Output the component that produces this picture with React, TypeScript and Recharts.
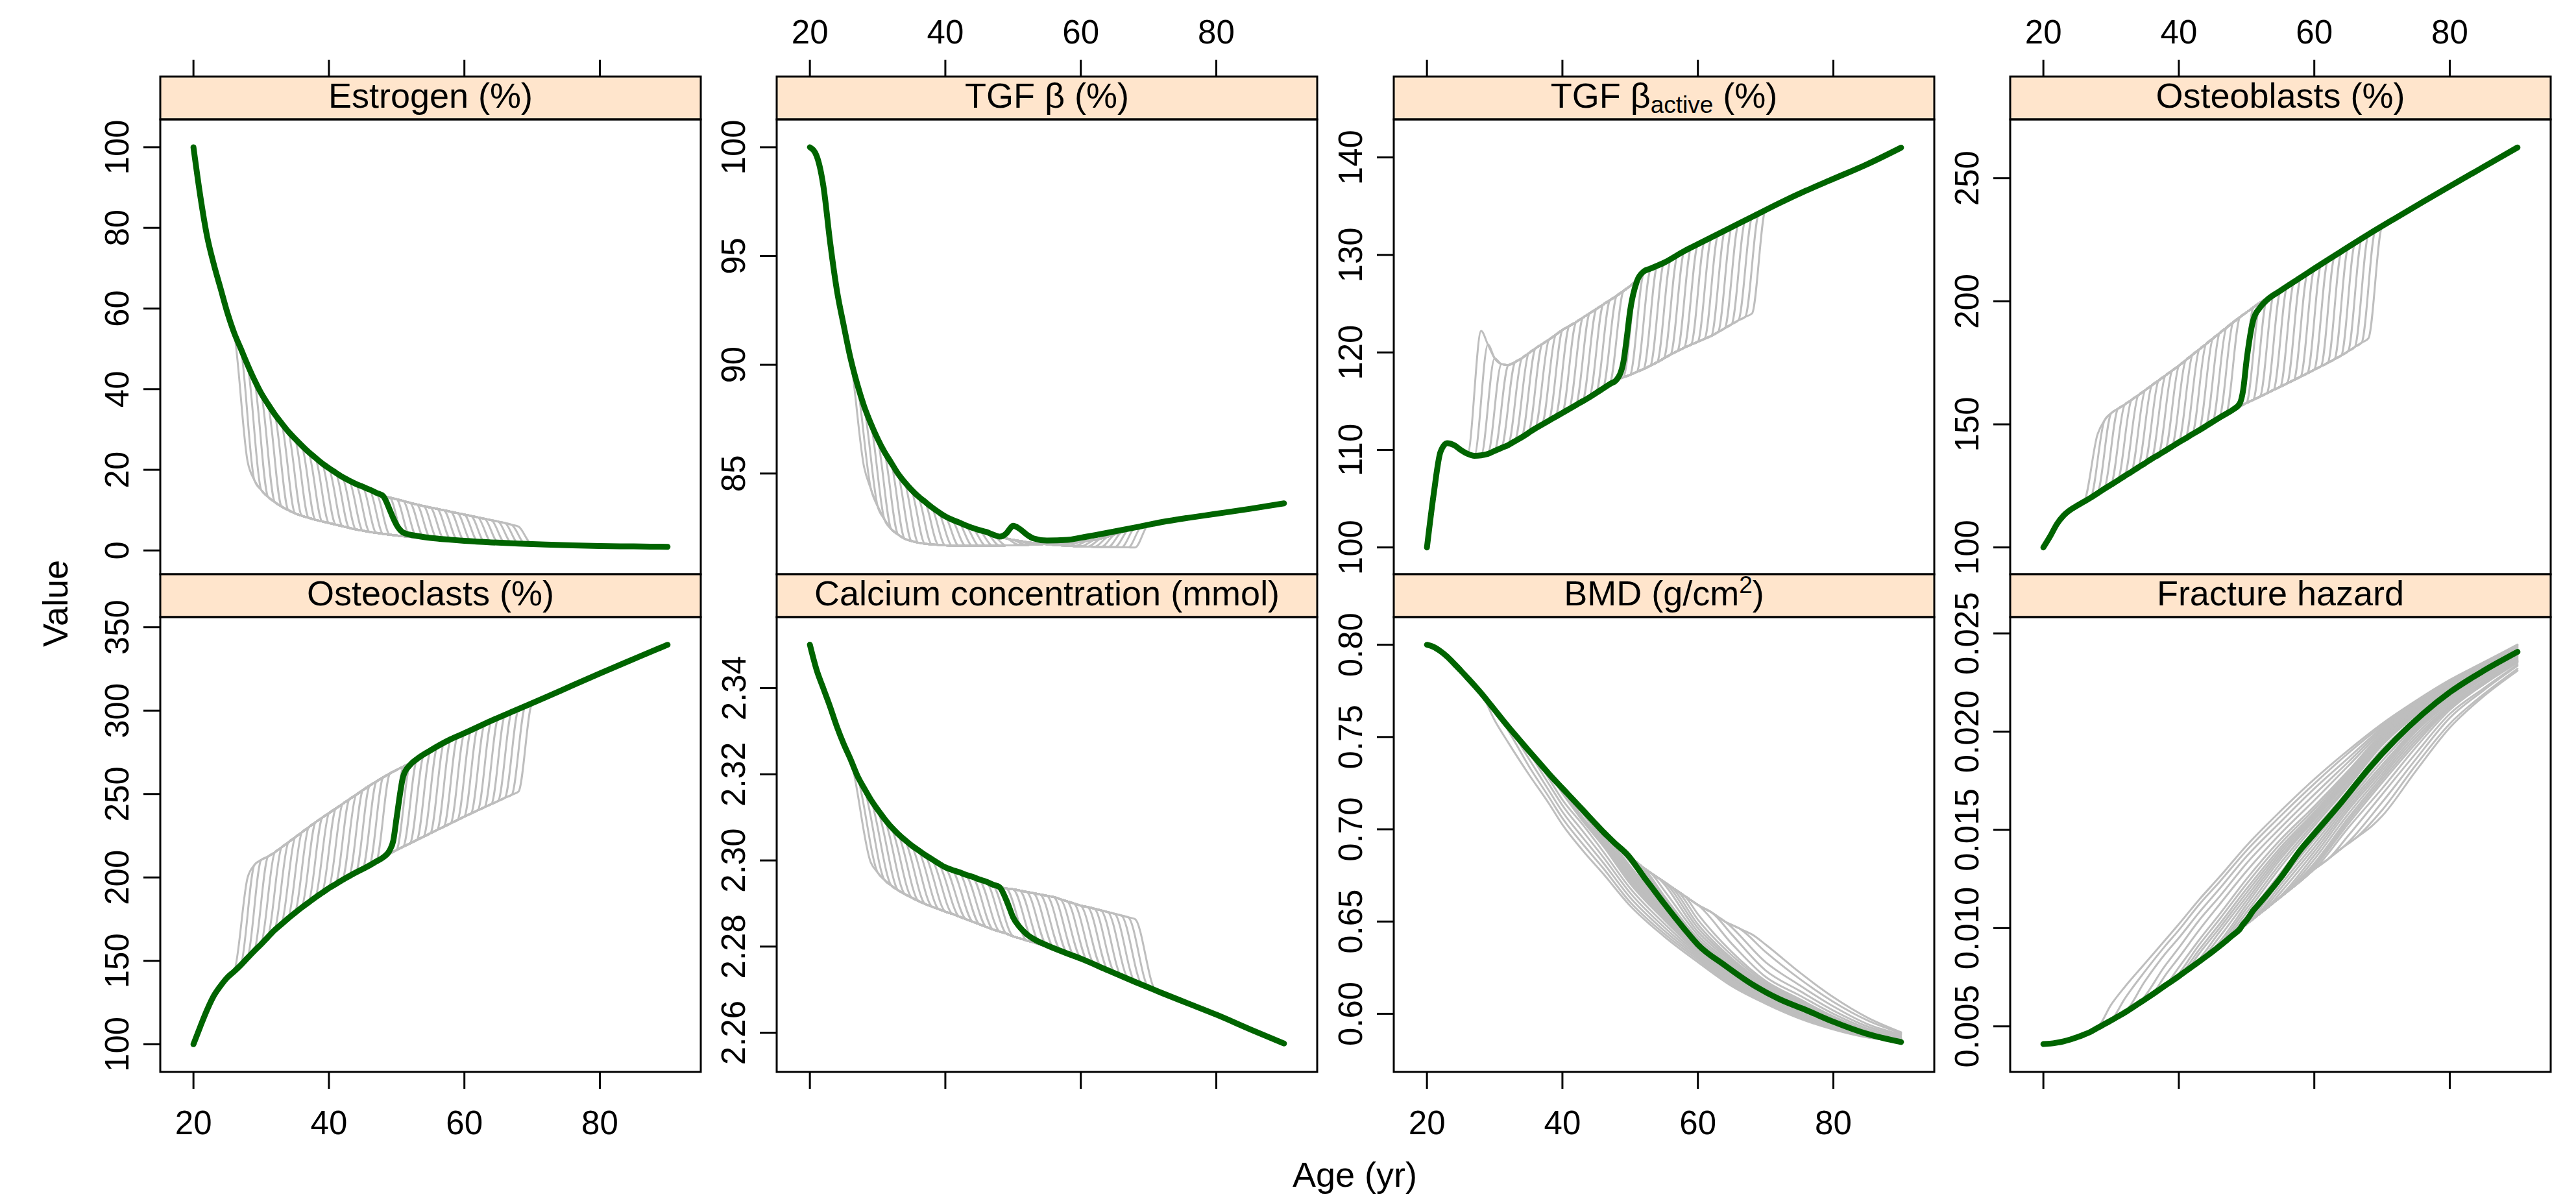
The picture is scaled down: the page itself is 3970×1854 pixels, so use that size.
import React from "react";
import { LineChart, Line, XAxis, YAxis } from "recharts";

const FONT = '"Liberation Sans", Arial, Helvetica, sans-serif';
const GRAY = "#BEBEBE";
const GREEN = "#006400";
const STRIP = "#FFE5CC";
const _ = null;

// ages where the pre-onset trajectories were read (20..68)
const preAges = [20, 21, 22, 23, 24, 25, 26, 27, 28, 29, 30, 31, 32, 33, 34, 35, 36, 37, 38, 39, 40, 41, 42, 43, 44, 45, 46, 47, 48, 49, 50, 51, 52, 53, 54, 55, 56, 57, 58, 59, 60, 61, 62, 63, 64, 65, 66, 67, 68];
// ages where the post-jump envelopes were read (28..74)
const postAges = [28, 29, 30, 31, 32, 33, 34, 35, 36, 37, 38, 39, 40, 41, 42, 43, 44, 45, 46, 47, 48, 49, 50, 51, 52, 53, 54, 55, 56, 57, 58, 59, 60, 61, 62, 63, 64, 65, 66, 67, 68, 69, 70, 71, 72, 73, 74];
// ages of the highlighted (green) scenario after its onset
const greenAges = [49, 49.5, 50, 51, 52, 53, 55, 58, 60, 64, 68, 72, 76, 80, 85, 90];
// ages where the BMD / fracture fans were read
const fanAges = [30, 32, 35, 38, 40, 43, 46, 50, 55, 60, 65, 70, 75, 80, 85, 90];

const greenOnset = 48;
const jumpOnsets = [26, 27, 28, 29, 30, 31, 32, 33, 34, 35, 36, 37, 38, 39, 40, 41, 42, 43, 44, 45, 46, 47, 49, 50, 51, 52, 53, 54, 55, 56, 57, 58, 59, 60, 61, 62, 63, 64, 65, 66, 67, 68];
const fanOnsets = [28, 30, 32, 34, 36, 38, 39, 40, 41, 42, 43, 44, 45, 46, 47, 49, 50, 51, 52, 53, 54, 55, 56, 57, 58, 60, 62, 64, 66, 68];
const xTicks = [20, 40, 60, 80];

// Estrogen (%)
const estrogenPre = [100, 88, 78, 71, 65, 59, 54, 50, 46, 42.3, 39, 36.3, 33.8, 31.6, 29.5, 27.7, 26, 24.4, 23, 21.6, 20.4, 19.3, 18.2, 17.3, 16.5, 15.8, 15.1, 14.3, 13.5, 13.1, 12.7, 12.25, 11.8, 11.4, 11.0, 10.65, 10.3, 9.95, 9.6, 9.25, 8.9, 8.55, 8.2, 7.85, 7.5, 7.15, 6.8, 6.35, 5.9];
const estrogenPost = [22, 17.4, 15, 13.3, 12, 10.9, 10, 9.2, 8.6, 8.1, 7.6, 7.2, 6.8, 6.4, 6.0, 5.6, 5.2, 4.9, 4.6, 4.35, 4.1, 3.9, 3.7, 3.5, 3.35, 3.25, 3.2, 3.05, 2.9, 2.78, 2.65, 2.52, 2.4, 2.3, 2.2, 2.1, 2.0, 1.92, 1.85, 1.78, 1.7, 1.62, 1.55, 1.5, 1.45, 1.4, 1.35];
const estrogenGreen = [10, 8.0, 6.3, 4.4, 3.9, 3.6, 3.1, 2.65, 2.4, 2.0, 1.7, 1.45, 1.25, 1.1, 1.0, 0.9];
const estrogenTicks = [0, 20, 40, 60, 80, 100];

// TGF beta (%)
const tgfPre = [100, 99.6, 98.2, 95.6, 93.4, 91.8, 90.3, 89.1, 88.1, 87.3, 86.6, 86.0, 85.5, 85.0, 84.6, 84.25, 83.95, 83.7, 83.45, 83.23, 83.03, 82.88, 82.75, 82.62, 82.5, 82.4, 82.32, 82.2, 82.1, 82.02, 81.95, 81.9, 81.85, 81.81, 81.78, 81.75, 81.72, 81.7, 81.68, 81.66, 81.65, 81.64, 81.63, 81.625, 81.62, 81.615, 81.61, 81.605, 81.6];
const tgfPost = [85.3, 84.3, 83.5, 82.9, 82.45, 82.2, 82.0, 81.9, 81.82, 81.77, 81.74, 81.72, 81.7, 81.69, 81.68, 81.68, 81.68, 81.68, 81.68, 81.685, 81.69, 81.695, 81.7, 81.71, 81.72, 81.735, 81.75, 81.765, 81.78, 81.8, 81.82, 81.845, 81.87, 81.91, 81.95, 82.02, 82.1, 82.2, 82.3, 82.41, 82.52, 82.59, 82.65, 82.71, 82.77, 82.82, 82.87];
const tgfGreen = [82.25, 82.45, 82.6, 82.45, 82.2, 82.02, 81.92, 81.95, 82.05, 82.28, 82.52, 82.77, 82.97, 83.15, 83.38, 83.63];
const tgfTicks = [85, 90, 95, 100];

// TGF beta active (%)
const tgfActivePre = [100, 105.5, 109.8, 110.7, 110.5, 110.0, 109.6, 109.4, 109.45, 109.6, 109.9, 110.2, 110.5, 110.9, 111.3, 111.75, 112.2, 112.6, 113.0, 113.4, 113.8, 114.2, 114.6, 115.0, 115.4, 115.85, 116.3, 116.75, 117.2, 117.45, 117.7, 118.0, 118.3, 118.65, 119.0, 119.4, 119.8, 120.15, 120.5, 120.8, 121.1, 121.4, 121.7, 122.1, 122.5, 122.9, 123.3, 123.65, 124.0];
const tgfActivePost = [122.2, 120.8, 119.4, 118.8, 118.7, 119.0, 119.4, 119.9, 120.4, 120.85, 121.3, 121.8, 122.3, 122.7, 123.1, 123.55, 124.0, 124.45, 124.9, 125.35, 125.8, 126.3, 126.8, 127.45, 128.1, 128.5, 128.9, 129.25, 129.6, 130.0, 130.4, 130.75, 131.1, 131.45, 131.8, 132.15, 132.5, 132.85, 133.2, 133.55, 133.9, 134.3, 134.7, 135.0, 135.3, 135.65, 136.0];
const tgfActiveGreen = [119, 121.5, 124.3, 127.3, 128.3, 128.6, 129.2, 130.4, 131.1, 132.5, 133.9, 135.3, 136.6, 137.8, 139.3, 141.0];
const tgfActiveTicks = [100, 110, 120, 130, 140];

// Osteoblasts (%)
const osteoblastPre = [100, 104.5, 109.5, 113, 115.3, 117, 118.6, 120.2, 122, 123.8, 125.5, 127.2, 129, 130.7, 132.5, 134.2, 136, 137.6, 139.3, 141, 142.7, 144.3, 146, 147.6, 149.3, 151, 152.7, 154.3, 156, 157.3, 158.7, 160, 161.3, 162.6, 164, 165.3, 166.7, 168, 169.4, 170.8, 172.2, 173.6, 175, 176.5, 178, 179.7, 181.5, 183.2, 185];
const osteoblastPost = [146, 151.5, 154.5, 156.3, 158, 159.9, 161.8, 163.8, 165.8, 167.8, 169.8, 171.8, 173.8, 176, 178.2, 180.4, 182.6, 184.8, 187, 189.2, 191.4, 193.5, 195.5, 197.5, 199.5, 201.2, 202.8, 204.5, 206.3, 208, 209.7, 211.5, 213.3, 215, 216.8, 218.5, 220.3, 222, 223.7, 225.5, 227.2, 228.8, 230.5, 232.2, 233.8, 235.4, 237];
const osteoblastGreen = [158.5, 164, 176, 192.5, 197.5, 200.5, 204.3, 209.7, 213.3, 220.3, 227.2, 233.8, 240.3, 246.7, 254.6, 262.5];
const osteoblastTicks = [100, 150, 200, 250];

// Osteoclasts (%)
const osteoclastPre = [100, 110.5, 120.5, 129, 135, 140, 143.6, 147.5, 151.8, 156, 160, 164.3, 168.5, 172, 175.5, 178.8, 182, 185, 188, 190.8, 193.6, 196, 198.5, 200.8, 203, 205.1, 207.2, 209.6, 212, 214.3, 216.5, 218.5, 220.5, 222.5, 224.5, 226.5, 228.5, 230.5, 232.5, 234.5, 236.5, 238.4, 240.3, 242.2, 244, 245.9, 247.8, 249.6, 251.5];
const osteoclastPost = [200, 207.5, 210.5, 212.5, 215, 218, 221, 224, 227, 230, 233, 235.8, 238.5, 241.3, 244, 246.8, 249.5, 252.3, 255, 257.5, 260, 262.3, 264.5, 266.5, 268.5, 271, 273.5, 276, 278.5, 280.8, 282.9, 284.7, 286.5, 288.4, 290.3, 292.2, 294, 295.8, 297.5, 299.3, 301, 302.8, 304.5, 306.3, 308, 309.7, 311.5];
const osteoclastGreen = [216.5, 222, 236, 261, 267.5, 271, 276.2, 282.9, 286.5, 294, 301, 308, 315.2, 322.3, 331, 339.5];
const osteoclastTicks = [100, 150, 200, 250, 300, 350];

// Calcium concentration (mmol)
const calciumPre = [2.3501, 2.3442, 2.3399, 2.3356, 2.331, 2.327, 2.3235, 2.3197, 2.3168, 2.3141, 2.3118, 2.3097, 2.3078, 2.3062, 2.3048, 2.3035, 2.3024, 2.3013, 2.3003, 2.2993, 2.2984, 2.2978, 2.2973, 2.2967, 2.2962, 2.2956, 2.2951, 2.2944, 2.2938, 2.2935, 2.2933, 2.293, 2.2927, 2.2924, 2.2921, 2.2918, 2.2915, 2.291, 2.2905, 2.29, 2.2895, 2.2892, 2.2888, 2.2884, 2.288, 2.2876, 2.2872, 2.2868, 2.2864];
const calciumPost = [2.303, 2.2995, 2.2972, 2.2955, 2.2942, 2.2931, 2.2922, 2.2914, 2.2906, 2.2899, 2.2893, 2.2887, 2.2881, 2.2876, 2.287, 2.2864, 2.2858, 2.2852, 2.2846, 2.284, 2.2835, 2.283, 2.2824, 2.2819, 2.2814, 2.281, 2.2805, 2.2801, 2.2796, 2.279, 2.2784, 2.2778, 2.2772, 2.2765, 2.2758, 2.2752, 2.2745, 2.2738, 2.2731, 2.2725, 2.2718, 2.2712, 2.2705, 2.2699, 2.2692, 2.2686, 2.268];
const calciumGreen = [2.2908, 2.2888, 2.2868, 2.2845, 2.2829, 2.2818, 2.2803, 2.2784, 2.2772, 2.2745, 2.2718, 2.2692, 2.2667, 2.2642, 2.2608, 2.2575];
const calciumTicks = [2.26, 2.28, 2.3, 2.32, 2.34];

// BMD (g/cm2)
const bmdPre = [0.8, 0.7988, 0.7965, 0.7935, 0.7898, 0.786, 0.782, 0.778, 0.7738, 0.7693, 0.7647, 0.7601, 0.7556, 0.7513, 0.747, 0.7427, 0.7385, 0.7343, 0.7301, 0.7261, 0.7222, 0.7183, 0.7144, 0.7105, 0.7065, 0.7026, 0.6987, 0.6951, 0.6916, 0.6883, 0.685, 0.682, 0.679, 0.6765, 0.674, 0.6715, 0.669, 0.6665, 0.664, 0.6615, 0.659, 0.657, 0.655, 0.6525, 0.65, 0.6482, 0.6465, 0.6448, 0.643];
const bmdGreen = [0.6884, 0.6866, 0.6845, 0.6795, 0.6743, 0.6695, 0.6598, 0.646, 0.6375, 0.6262, 0.616, 0.608, 0.602, 0.5957, 0.5891, 0.5847];
const bmdFan = [
  [0.759, 0.747, 0.73, 0.714, 0.7025, 0.6885, 0.676, 0.6585, 0.642, 0.628, 0.615, 0.6055, 0.5975, 0.5915, 0.5872, 0.5852],
  [_, 0.7535, 0.7345, 0.7175, 0.706, 0.692, 0.679, 0.6605, 0.6435, 0.6292, 0.6158, 0.6062, 0.598, 0.5918, 0.5874, 0.5852],
  [_, _, 0.7385, 0.721, 0.7095, 0.6955, 0.682, 0.663, 0.6452, 0.6303, 0.6166, 0.6068, 0.5985, 0.5921, 0.5875, 0.5851],
  [_, _, _, 0.7245, 0.713, 0.699, 0.685, 0.6655, 0.647, 0.6313, 0.6174, 0.6073, 0.599, 0.5924, 0.5876, 0.5851],
  [_, _, _, 0.7275, 0.716, 0.7025, 0.688, 0.668, 0.649, 0.6323, 0.6182, 0.6078, 0.5994, 0.5927, 0.5877, 0.585],
  [_, _, _, _, 0.7195, 0.7045, 0.691, 0.6705, 0.651, 0.6333, 0.619, 0.6083, 0.5998, 0.593, 0.5878, 0.585],
  [_, _, _, _, _, 0.7055, 0.692, 0.6717, 0.652, 0.6338, 0.6194, 0.6086, 0.6, 0.5932, 0.5879, 0.585],
  [_, _, _, _, _, 0.7065, 0.6932, 0.673, 0.653, 0.6343, 0.6198, 0.6088, 0.6002, 0.5933, 0.5879, 0.5849],
  [_, _, _, _, _, 0.7085, 0.6942, 0.674, 0.6538, 0.6347, 0.6201, 0.609, 0.6003, 0.5934, 0.588, 0.5849],
  [_, _, _, _, _, _, 0.695, 0.675, 0.6545, 0.635, 0.6204, 0.6092, 0.6005, 0.5936, 0.588, 0.5849],
  [_, _, _, _, _, _, 0.6958, 0.6762, 0.6554, 0.6353, 0.6207, 0.6094, 0.6007, 0.5937, 0.5881, 0.5849],
  [_, _, _, _, _, _, 0.6966, 0.6775, 0.6562, 0.6356, 0.621, 0.6096, 0.6009, 0.5939, 0.5882, 0.5848],
  [_, _, _, _, _, _, _, 0.6788, 0.657, 0.6359, 0.6213, 0.6098, 0.6012, 0.5941, 0.5883, 0.5848],
  [_, _, _, _, _, _, _, 0.68, 0.6578, 0.6362, 0.6216, 0.61, 0.6015, 0.5943, 0.5884, 0.5848],
  [_, _, _, _, _, _, _, 0.6822, 0.6588, 0.6366, 0.6222, 0.6105, 0.6025, 0.595, 0.5887, 0.5848],
  [_, _, _, _, _, _, _, _, 0.6608, 0.6383, 0.6242, 0.6122, 0.6039, 0.5959, 0.5892, 0.5848],
  [_, _, _, _, _, _, _, _, 0.6618, 0.6392, 0.6248, 0.6128, 0.6042, 0.5961, 0.5893, 0.5849],
  [_, _, _, _, _, _, _, _, 0.6628, 0.6401, 0.6254, 0.6131, 0.6045, 0.5963, 0.5894, 0.585],
  [_, _, _, _, _, _, _, _, 0.664, 0.641, 0.626, 0.6135, 0.6048, 0.5965, 0.5896, 0.5852],
  [_, _, _, _, _, _, _, _, 0.667, 0.6427, 0.627, 0.614, 0.6052, 0.5967, 0.5898, 0.5854],
  [_, _, _, _, _, _, _, _, _, 0.6445, 0.628, 0.6145, 0.6056, 0.597, 0.59, 0.5856],
  [_, _, _, _, _, _, _, _, _, 0.6465, 0.629, 0.6152, 0.6061, 0.5973, 0.5902, 0.5858],
  [_, _, _, _, _, _, _, _, _, 0.6485, 0.63, 0.616, 0.6066, 0.5977, 0.5905, 0.586],
  [_, _, _, _, _, _, _, _, _, 0.651, 0.6317, 0.6169, 0.6073, 0.5981, 0.5907, 0.5863],
  [_, _, _, _, _, _, _, _, _, 0.654, 0.6335, 0.6178, 0.608, 0.5986, 0.591, 0.5866],
  [_, _, _, _, _, _, _, _, _, _, 0.638, 0.62, 0.61, 0.6, 0.592, 0.5872],
  [_, _, _, _, _, _, _, _, _, _, 0.643, 0.6235, 0.6125, 0.6018, 0.5932, 0.588],
  [_, _, _, _, _, _, _, _, _, _, _, 0.628, 0.6155, 0.604, 0.5945, 0.5888],
  [_, _, _, _, _, _, _, _, _, _, _, 0.6335, 0.619, 0.6065, 0.5965, 0.5895],
  [_, _, _, _, _, _, _, _, _, _, _, 0.6375, 0.6225, 0.609, 0.598, 0.59],
];
const bmdTicks = [0.6, 0.65, 0.7, 0.75, 0.8];

// Fracture hazard
const fracturePre = [0.0041, 0.00412, 0.00417, 0.00424, 0.00433, 0.00445, 0.00458, 0.00473, 0.00492, 0.00511, 0.0053, 0.0055, 0.0057, 0.00592, 0.00615, 0.00637, 0.0066, 0.00684, 0.00708, 0.00731, 0.00755, 0.0078, 0.00805, 0.0083, 0.00855, 0.00881, 0.00908, 0.00936, 0.00965, 0.00992, 0.0102, 0.01047, 0.01075, 0.01102, 0.0113, 0.01157, 0.01185, 0.01212, 0.0124, 0.0127, 0.013, 0.01325, 0.0135, 0.01378, 0.01405, 0.0143, 0.01455, 0.0148, 0.01505];
const fractureGreen = [0.00995, 0.0102, 0.0104, 0.0109, 0.0113, 0.0117, 0.01255, 0.014, 0.0148, 0.0164, 0.0181, 0.0196, 0.0209, 0.022, 0.0231, 0.02406];
const fractureFan = [
  [0.0061, 0.007, 0.0082, 0.0094, 0.0102, 0.01145, 0.0126, 0.0142, 0.01595, 0.01758, 0.01905, 0.0204, 0.02157, 0.02263, 0.02353, 0.02443],
  [_, 0.0064, 0.0078, 0.0091, 0.0099, 0.0112, 0.01235, 0.01395, 0.0157, 0.01735, 0.0189, 0.0203, 0.02152, 0.0226, 0.0235, 0.0244],
  [_, _, 0.0073, 0.0087, 0.0095, 0.0108, 0.012, 0.01365, 0.0154, 0.0171, 0.01865, 0.0202, 0.02147, 0.02257, 0.02348, 0.02435],
  [_, _, _, 0.0081, 0.009, 0.0104, 0.0116, 0.0133, 0.0151, 0.0168, 0.01845, 0.0201, 0.0214, 0.02253, 0.02345, 0.0243],
  [_, _, _, 0.0076, 0.0085, 0.0099, 0.0112, 0.0129, 0.0148, 0.0165, 0.01825, 0.02, 0.02133, 0.0225, 0.02342, 0.02425],
  [_, _, _, _, 0.008, 0.0094, 0.0107, 0.0125, 0.0145, 0.0162, 0.018, 0.0199, 0.02125, 0.02245, 0.02338, 0.0242],
  [_, _, _, _, _, 0.00915, 0.01045, 0.01225, 0.0143, 0.01605, 0.0179, 0.0198, 0.0212, 0.02243, 0.02336, 0.02418],
  [_, _, _, _, _, 0.0089, 0.0102, 0.012, 0.0141, 0.0159, 0.0178, 0.0197, 0.02115, 0.0224, 0.02333, 0.02415],
  [_, _, _, _, _, 0.0087, 0.01, 0.0118, 0.01395, 0.0158, 0.0177, 0.01965, 0.02108, 0.02238, 0.02332, 0.02412],
  [_, _, _, _, _, _, 0.0098, 0.0116, 0.0138, 0.0157, 0.0176, 0.0196, 0.021, 0.02235, 0.0233, 0.0241],
  [_, _, _, _, _, _, 0.00955, 0.0114, 0.01365, 0.0156, 0.01752, 0.01955, 0.02098, 0.02232, 0.02328, 0.02409],
  [_, _, _, _, _, _, 0.0093, 0.0112, 0.0135, 0.0155, 0.01745, 0.0195, 0.02095, 0.0223, 0.02325, 0.02408],
  [_, _, _, _, _, _, _, 0.011, 0.0133, 0.01535, 0.01732, 0.0194, 0.0209, 0.02225, 0.02322, 0.02406],
  [_, _, _, _, _, _, _, 0.0108, 0.0131, 0.0152, 0.0172, 0.0193, 0.02085, 0.0222, 0.0232, 0.02405],
  [_, _, _, _, _, _, _, 0.0106, 0.0128, 0.015, 0.017, 0.0191, 0.0207, 0.0221, 0.02315, 0.02404],
  [_, _, _, _, _, _, _, _, 0.0125, 0.01465, 0.0167, 0.0188, 0.0205, 0.0219, 0.02295, 0.02395],
  [_, _, _, _, _, _, _, _, 0.0124, 0.0145, 0.0166, 0.0187, 0.0204, 0.0218, 0.0229, 0.0239],
  [_, _, _, _, _, _, _, _, 0.0122, 0.0143, 0.01645, 0.0185, 0.0203, 0.02175, 0.02285, 0.02385],
  [_, _, _, _, _, _, _, _, 0.012, 0.0141, 0.0163, 0.0183, 0.0202, 0.0217, 0.0228, 0.0238],
  [_, _, _, _, _, _, _, _, 0.0118, 0.0139, 0.01615, 0.01815, 0.0201, 0.0216, 0.02275, 0.02375],
  [_, _, _, _, _, _, _, _, _, 0.0137, 0.016, 0.018, 0.02, 0.0215, 0.0227, 0.0237],
  [_, _, _, _, _, _, _, _, _, 0.0135, 0.0158, 0.01785, 0.01985, 0.0214, 0.0226, 0.02365],
  [_, _, _, _, _, _, _, _, _, 0.0133, 0.0156, 0.0177, 0.0197, 0.0213, 0.0225, 0.0236],
  [_, _, _, _, _, _, _, _, _, 0.0132, 0.01545, 0.01755, 0.01955, 0.02125, 0.02245, 0.02358],
  [_, _, _, _, _, _, _, _, _, 0.0131, 0.0153, 0.0174, 0.0194, 0.0212, 0.0224, 0.02355],
  [_, _, _, _, _, _, _, _, _, _, 0.0151, 0.0171, 0.0192, 0.0211, 0.0224, 0.0235],
  [_, _, _, _, _, _, _, _, _, _, 0.0147, 0.0168, 0.0189, 0.0209, 0.0222, 0.0234],
  [_, _, _, _, _, _, _, _, _, _, _, 0.0164, 0.0186, 0.0207, 0.0221, 0.02335],
  [_, _, _, _, _, _, _, _, _, _, _, 0.016, 0.0183, 0.0204, 0.0219, 0.0232],
  [_, _, _, _, _, _, _, _, _, _, _, 0.0157, 0.018, 0.0202, 0.0218, 0.0231],
];
const fractureTicks = [0.005, 0.01, 0.015, 0.02, 0.025];

// layout of the 4x2 lattice
const colLeft = [247, 1197, 2148, 3098];
const rowTop = [118, 885];
const panelW = 833;
const stripH = 66;
const panelH = 701;
const xDomain = [15.1, 94.9];

type Pt = { x: number; y: number };
type PanelDef = {
  title: React.ReactNode;
  row: number;
  col: number;
  domain: [number, number];
  ticks: number[];
  digits: number;
  pre: number[];
  green: number[];
  post?: number[];
  gap?: number;
  fan?: (number | null)[][];
};

const panels: PanelDef[] = [
  { title: "Estrogen (%)", row: 0, col: 0, domain: [-5.9, 106.9], ticks: estrogenTicks, digits: 0, pre: estrogenPre, post: estrogenPost, gap: 2, green: estrogenGreen },
  { title: "TGF \u03b2 (%)", row: 0, col: 1, domain: [80.37, 101.28], ticks: tgfTicks, digits: 0, pre: tgfPre, post: tgfPost, gap: 2, green: tgfGreen },
  {
    title: (
      <>
        TGF {"\u03b2"}
        <tspan fontSize={37} dy={8}>active</tspan>
        <tspan dy={-8}> (%)</tspan>
      </>
    ),
    row: 0, col: 2, domain: [97.25, 143.9], ticks: tgfActiveTicks, digits: 0, pre: tgfActivePre, post: tgfActivePost, gap: 2, green: tgfActiveGreen,
  },
  { title: "Osteoblasts (%)", row: 0, col: 3, domain: [89.1, 273.9], ticks: osteoblastTicks, digits: 0, pre: osteoblastPre, post: osteoblastPost, gap: 2, green: osteoblastGreen },
  { title: "Osteoclasts (%)", row: 1, col: 0, domain: [83.4, 356.1], ticks: osteoclastTicks, digits: 0, pre: osteoclastPre, post: osteoclastPost, gap: 2, green: osteoclastGreen },
  { title: "Calcium concentration (mmol)", row: 1, col: 1, domain: [2.2509, 2.3565], ticks: calciumTicks, digits: 2, pre: calciumPre, post: calciumPost, gap: 3, green: calciumGreen },
  {
    title: (
      <>
        BMD (g/cm
        <tspan fontSize={37} dy={-19}>2</tspan>
        <tspan dy={19}>)</tspan>
      </>
    ),
    row: 1, col: 2, domain: [0.5685, 0.815], ticks: bmdTicks, digits: 2, pre: bmdPre, fan: bmdFan, green: bmdGreen,
  },
  { title: "Fracture hazard", row: 1, col: 3, domain: [0.00268, 0.02583], ticks: fractureTicks, digits: 3, pre: fracturePre, fan: fractureFan, green: fractureGreen },
];

const pts = (xs: number[], ys: (number | null)[]): Pt[] =>
  xs.map((x, i) => ({ x, y: ys[i] as number })).filter((p) => p.y !== null && p.y !== undefined);

function grayCurves(p: PanelDef): Pt[][] {
  const pre = pts(preAges, p.pre);
  if (p.fan) {
    const fan = p.fan;
    return fanOnsets.map((o, k) => [...pre.filter((q) => q.x <= o), ...pts(fanAges, fan[k])]);
  }
  const post = pts(postAges, p.post || []);
  const gap = p.gap || 2;
  return jumpOnsets.map((o) => [...pre.filter((q) => q.x <= o), ...post.filter((q) => q.x >= o + gap)]);
}

function greenCurve(p: PanelDef): Pt[] {
  return [...pts(preAges, p.pre).filter((q) => q.x <= greenOnset), ...pts(greenAges, p.green)];
}

function YTick(props: any) {
  const { x, y, payload, digits } = props;
  return (
    <text x={x} y={y} transform={`rotate(-90 ${x} ${y})`} textAnchor="middle" fontSize={51} fontFamily={FONT} fill="#000">
      {Number(payload.value).toFixed(digits)}
    </text>
  );
}

function XTick(props: any) {
  const { x, y, payload, show } = props;
  if (!show) return <g />;
  return (
    <text x={x} y={y} textAnchor="middle" fontSize={51} fontFamily={FONT} fill="#000">
      {payload.value}
    </text>
  );
}

function Panel({ p }: { p: PanelDef }) {
  const left = colLeft[p.col];
  const top = rowTop[p.row];
  const [lo, hi] = p.domain;
  // the plot area also spans the strip, so stretch the domain upwards
  const hiExt = hi + ((hi - lo) * stripH) / panelH;
  const isTop = p.row === 0;
  const showLabels = isTop ? p.col % 2 === 1 : p.col % 2 === 0;
  const grays = grayCurves(p);
  const green = greenCurve(p);
  const tickLine = { stroke: "#000", strokeWidth: 3 };

  return (
    <div style={{ position: "absolute", left: left - 200, top: top - 110 }}>
      <LineChart
        width={200 + panelW + 20}
        height={110 + stripH + panelH + 110}
        margin={{ top: isTop ? 10 : 110, right: 20, bottom: isTop ? 110 : 10, left: 100 }}
      >
        <XAxis
          xAxisId="x"
          type="number"
          dataKey="x"
          domain={xDomain}
          ticks={xTicks}
          interval={0}
          allowDataOverflow
          orientation={isTop ? "top" : "bottom"}
          height={100}
          axisLine={false}
          tickLine={tickLine}
          tickSize={26}
          tickMargin={isTop ? 25 : 70}
          tick={(t: any) => <XTick {...t} show={showLabels} />}
        />
        <YAxis
          yAxisId="y"
          type="number"
          domain={[lo, hiExt]}
          ticks={p.ticks}
          interval={0}
          allowDataOverflow
          width={100}
          axisLine={false}
          tickLine={tickLine}
          tickSize={26}
          tickMargin={22.5}
          tick={(t: any) => <YTick {...t} digits={p.digits} />}
        />
        {grays.map((d, i) => (
          <Line
            key={`g${i}`}
            xAxisId="x"
            yAxisId="y"
            data={d}
            dataKey="y"
            type="monotone"
            stroke={GRAY}
            strokeWidth={3}
            strokeLinecap="round"
            strokeLinejoin="round"
            dot={false}
            activeDot={false}
            isAnimationActive={false}
          />
        ))}
        <Line
          xAxisId="x"
          yAxisId="y"
          data={green}
          dataKey="y"
          type="monotone"
          stroke={GREEN}
          strokeWidth={9}
          strokeLinecap="round"
          strokeLinejoin="round"
          dot={false}
          activeDot={false}
          isAnimationActive={false}
        />
      </LineChart>
    </div>
  );
}

export default function App() {
  return (
    <div style={{ position: "absolute", left: 0, top: 0, width: 3970, height: 1854, background: "#fff", overflow: "hidden" }}>
      {panels.map((p, i) => (
        <Panel key={i} p={p} />
      ))}
      <svg width={3970} height={1854} style={{ position: "absolute", left: 0, top: 0, pointerEvents: "none" }}>
        {panels.map((p, i) => {
          const x = colLeft[p.col];
          const y = rowTop[p.row];
          return (
            <g key={i}>
              <rect x={x} y={y} width={panelW} height={stripH} fill={STRIP} stroke="#000" strokeWidth={3} />
              <rect x={x} y={y + stripH} width={panelW} height={panelH} fill="none" stroke="#000" strokeWidth={3} />
              <text x={x + panelW / 2} y={y + 47.5} textAnchor="middle" fontSize={54} fontFamily={FONT} fill="#000">
                {p.title}
              </text>
            </g>
          );
        })}
        <text x={104} y={930} transform="rotate(-90 104 930)" textAnchor="middle" fontSize={54} fontFamily={FONT} fill="#000">
          Value
        </text>
        <text x={2088} y={1829} textAnchor="middle" fontSize={54} fontFamily={FONT} fill="#000">
          Age (yr)
        </text>
      </svg>
    </div>
  );
}
